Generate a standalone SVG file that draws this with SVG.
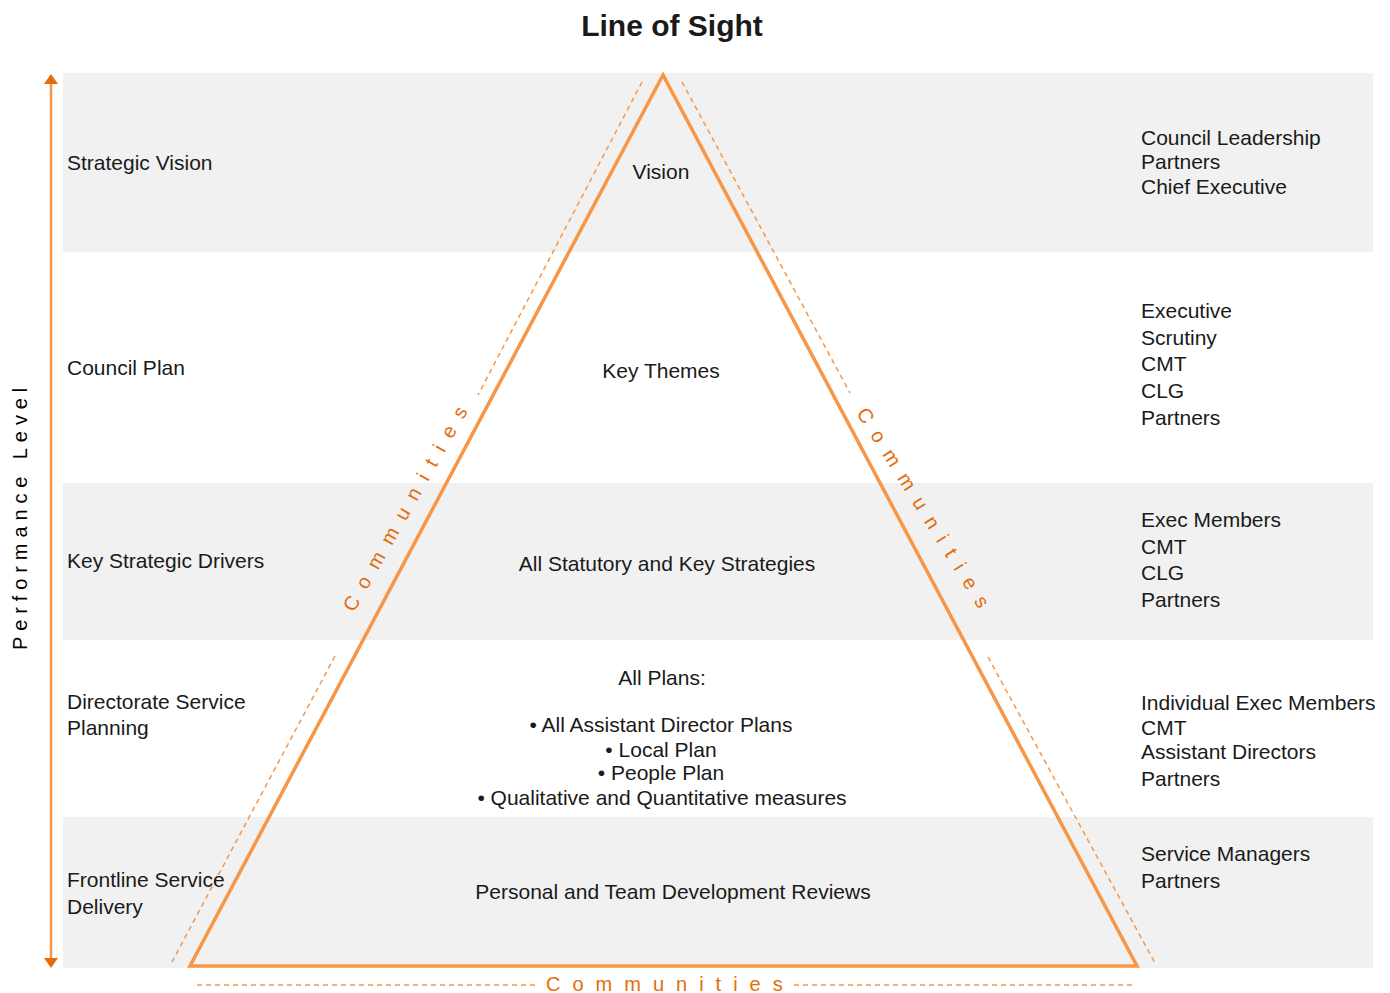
<svg xmlns="http://www.w3.org/2000/svg" width="1390" height="993" viewBox="0 0 1390 993">
<defs>
<style>
.t{font-family:"Liberation Sans",Arial,sans-serif;font-size:21px;fill:#1a1a1a}
.c{text-anchor:middle}
.band{fill:#f1f1f1}
.tri{fill:none;stroke:#f79646;stroke-width:3.5;stroke-linejoin:miter}
.dash{fill:none;stroke:#f79646;stroke-width:1.5;stroke-dasharray:5 4}
.com{font-family:"Liberation Sans",Arial,sans-serif;font-size:20px;fill:#e46c0a;letter-spacing:11.5px}
.axis{stroke:#f79646;stroke-width:2.5}
</style>
</defs>
<rect width="1390" height="993" fill="#ffffff"/>
<text x="672" y="36" class="t c" style="font-size:30px;font-weight:bold">Line of Sight</text>

<g id="bands">
<rect class="band" x="63" y="73" width="1310" height="179"/>
<rect class="band" x="63" y="483" width="1310" height="157"/>
<rect class="band" x="63" y="817" width="1310" height="151"/>
</g>

<g id="axis">
<line class="axis" x1="51" y1="84" x2="51" y2="958"/>
<path d="M44,84 L51,74 L58,84 Z" fill="#e46c0a"/>
<path d="M44,958 L51,968 L58,958 Z" fill="#e46c0a"/>
<text class="t" transform="translate(27,650) rotate(-90)" style="font-size:20px;letter-spacing:5.9px;fill:#000">Performance Level</text>
</g>

<g id="connectors">
<path class="tri" d="M663,75 L190,966 L1137,966 Z"/>
<line class="dash" x1="642" y1="82" x2="478" y2="395"/>
<line class="dash" x1="335" y1="656" x2="172" y2="962"/>
<line class="dash" x1="682" y1="82" x2="850" y2="393"/>
<line class="dash" x1="988" y1="657" x2="1155" y2="963"/>
<line class="dash" x1="197" y1="985" x2="537" y2="985"/>
<line class="dash" x1="794" y1="985" x2="1135" y2="985"/>
<text class="com" transform="translate(354,613) rotate(-60.5)">Communities</text>
<text class="com" transform="translate(856,413) rotate(58)">Communities</text>
<text class="com" x="546" y="991" style="letter-spacing:12px">Communities</text>
</g>

<g id="row1">
<text class="t" x="67" y="170">Strategic Vision</text>
<text class="t c" x="661" y="179">Vision</text>
<text class="t" x="1141" y="145">Council Leadership</text>
<text class="t" x="1141" y="169">Partners</text>
<text class="t" x="1141" y="194">Chief Executive</text>
</g>

<g id="row2">
<text class="t" x="67" y="375">Council Plan</text>
<text class="t c" x="661" y="378">Key Themes</text>
<text class="t" x="1141" y="318">Executive</text>
<text class="t" x="1141" y="345">Scrutiny</text>
<text class="t" x="1141" y="371">CMT</text>
<text class="t" x="1141" y="398">CLG</text>
<text class="t" x="1141" y="425">Partners</text>
</g>

<g id="row3">
<text class="t" x="67" y="568">Key Strategic Drivers</text>
<text class="t c" x="667" y="571">All Statutory and Key Strategies</text>
<text class="t" x="1141" y="527">Exec Members</text>
<text class="t" x="1141" y="554">CMT</text>
<text class="t" x="1141" y="580">CLG</text>
<text class="t" x="1141" y="607">Partners</text>
</g>

<g id="row4">
<text class="t" x="67" y="709">Directorate Service</text>
<text class="t" x="67" y="735">Planning</text>
<text class="t c" x="662" y="685">All Plans:</text>
<text class="t c" x="661" y="732">• All Assistant Director Plans</text>
<text class="t c" x="661" y="757">• Local Plan</text>
<text class="t c" x="661" y="780">• People Plan</text>
<text class="t c" x="662" y="805">• Qualitative and Quantitative measures</text>
<text class="t" x="1141" y="710">Individual Exec Members</text>
<text class="t" x="1141" y="735">CMT</text>
<text class="t" x="1141" y="759">Assistant Directors</text>
<text class="t" x="1141" y="786">Partners</text>
</g>

<g id="row5">
<text class="t" x="67" y="887">Frontline Service</text>
<text class="t" x="67" y="914">Delivery</text>
<text class="t c" x="673" y="899">Personal and Team Development Reviews</text>
<text class="t" x="1141" y="861">Service Managers</text>
<text class="t" x="1141" y="888">Partners</text>
</g>
</svg>
